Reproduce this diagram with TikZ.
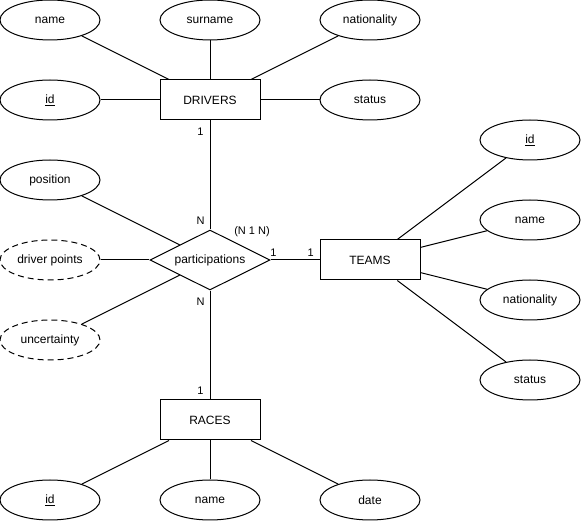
\documentclass[tikz,border=0pt]{standalone}
\usepackage{fontspec}
\setmainfont{Liberation Sans}
\usetikzlibrary{shapes, positioning}

\begin{document}
\begin{tikzpicture}[line width=1pt, font=\fontsize{12}{14}\selectfont]
    \tikzset{EntityStyle/.style = {rectangle, draw=black, minimum width=100pt, minimum height=40pt, inner sep=0pt, on grid}}
    \tikzset{AttrStyle/.style = {ellipse, draw=black, minimum width=100pt, minimum height=40pt, inner sep=0pt, on grid}}
    \tikzset{DerivedStyle/.style = {AttrStyle, dash pattern=on 6pt off 4pt}}
    \tikzset{RelStyle/.style = {diamond, aspect=2, draw=black, minimum width=120pt, minimum height=60pt, inner sep=0pt, on grid}}
    \tikzset{LabelStyle/.style = {inner sep=1pt, font=\fontsize{11}{13}\selectfont}}
    \useasboundingbox (0,0) rectangle (582pt,-521pt);
    % drivers
    \node[EntityStyle](Drivers) at (210pt,-100pt){DRIVERS};
    \node[AttrStyle, above left=80pt and 160pt of Drivers](DName){name};
    \node[AttrStyle, above=80pt of Drivers](DSurname){surname};
    \node[AttrStyle, above right=80pt and 160pt of Drivers](DNat){nationality};
    \node[AttrStyle, left=160pt of Drivers](DId){\underline{id}};
    \node[AttrStyle, right=160pt of Drivers](DStatus){status};
    % relationship
    \node[RelStyle, below=160pt of Drivers](Part){participations};
    \node[AttrStyle, above left=80pt and 160pt of Part](Pos){position};
    \node[DerivedStyle, left=160pt of Part](Points){driver points};
    \node[DerivedStyle, below left=80pt and 160pt of Part](Uncert){uncertainty};
    \node[LabelStyle] (Card) at ([shift={(42pt,28pt)}]Part.center){(N 1 N)};
    % teams
    \node[EntityStyle, right=160pt of Part](Teams){TEAMS};
    \node[AttrStyle, above right=120pt and 160pt of Teams](TId){\underline{id}};
    \node[AttrStyle, above right=40pt and 160pt of Teams](TName){name};
    \node[AttrStyle, below right=40pt and 160pt of Teams](TNat){nationality};
    \node[AttrStyle, below right=120pt and 160pt of Teams](TStatus){status};
    % races
    \node[EntityStyle, below=160pt of Part](Races){RACES};
    \node[AttrStyle, below left=80pt and 160pt of Races](RId){\underline{id}};
    \node[AttrStyle, below=80pt of Races](RName){name};
    \node[AttrStyle, below right=80pt and 160pt of Races](RDate){date};

    \draw(DName) to (Drivers);
    \draw(DSurname) to (Drivers);
    \draw(DNat) to (Drivers);
    \draw(DId) to (Drivers);
    \draw(DStatus) to (Drivers);

    \draw(Drivers) to node[LabelStyle, pos=0.1, left=5pt]{1}
                      node[LabelStyle, pos=0.92, left=4pt]{N} (Part);
    \draw(Part) to node[LabelStyle, pos=0.1, left=4pt]{N}
                   node[LabelStyle, pos=0.92, left=5pt]{1} (Races);
    \draw(Part) to node[LabelStyle, pos=0.06, above=2pt]{1}
                   node[LabelStyle, pos=0.82, above=2pt]{1} (Teams);

    \draw(Pos) to (Part);
    \draw(Points) to (Part);
    \draw(Uncert) to (Part);

    \draw(TId) to (Teams);
    \draw(TName) to (Teams);
    \draw(TNat) to (Teams);
    \draw(TStatus) to (Teams);

    \draw(RId) to (Races);
    \draw(RName) to (Races);
    \draw(RDate) to (Races);
\end{tikzpicture}
\end{document}
